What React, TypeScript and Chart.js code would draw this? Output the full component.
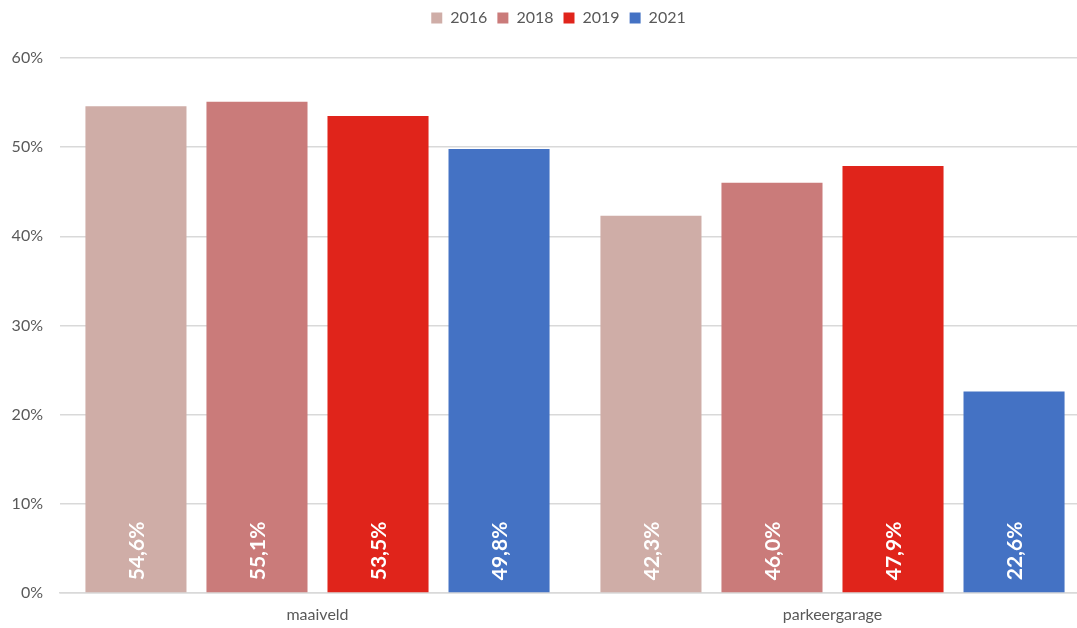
import React, { useEffect, useRef } from "react";
import { Chart, registerables } from "chart.js";

Chart.register(...registerables);

const categories = ["maaiveld", "parkeergarage"];
const seriesLabels = ["2016", "2018", "2019", "2021"];
const values2016 = [54.6, 42.3];
const values2018 = [55.1, 46.0];
const values2019 = [53.5, 47.9];
const values2021 = [49.8, 22.6];
const seriesColors = ["#CFADA7", "#CA7B7A", "#E0241B", "#4472C4"];
const yTicks = [0, 10, 20, 30, 40, 50, 60];

const FONT = "Lato, 'Open Sans', sans-serif";

const insideBaseLabels = {
  id: "insideBaseLabels",
  afterDatasetsDraw(chart: any) {
    const ctx = chart.ctx;
    ctx.save();
    chart.data.datasets.forEach((ds: any, di: number) => {
      const meta = chart.getDatasetMeta(di);
      meta.data.forEach((bar: any, i: number) => {
        const v = ds.data[i];
        const txt = v.toFixed(1).replace(".", ",") + "%";
        ctx.save();
        ctx.translate(bar.x, bar.base - 12);
        ctx.rotate(-Math.PI / 2);
        ctx.fillStyle = "#FFFFFF";
        ctx.font = "bold 21px " + FONT;
        ctx.textAlign = "left";
        ctx.textBaseline = "middle";
        ctx.fillText(txt, 0, 1);
        ctx.restore();
      });
    });
    ctx.restore();
  },
};

const legendSpacing = {
  id: "legendSpacing",
  beforeInit(chart: any) {
    const orig = chart.legend.fit;
    chart.legend.fit = function () {
      orig.bind(chart.legend)();
      this.height += 22;
    };
  },
  afterLayout(chart: any) {
    chart.legend.left = 27;
    chart.legend.right = 1090;
  },
};

export default function App() {
  const ref = useRef<HTMLCanvasElement>(null);
  useEffect(() => {
    if (!ref.current) return;
    const allValues = [values2016, values2018, values2019, values2021];
    const chart = new Chart(ref.current, {
      type: "bar",
      data: {
        labels: categories,
        datasets: seriesLabels.map((l, i) => ({
          label: l,
          data: allValues[i],
          backgroundColor: seriesColors[i],
          categoryPercentage: 0.94,
          barPercentage: 0.835,
        })),
      },
      options: {
        responsive: false,
        animation: false,
        devicePixelRatio: 1,
        layout: { padding: { top: 0, right: 10, left: 0, bottom: 0 } },
        plugins: {
          legend: {
            position: "top",
            labels: {
              boxWidth: 11,
              boxHeight: 11,
              color: "#595959",
              font: { family: FONT, size: 16 },
              padding: 10,
            },
          },
          tooltip: { enabled: false },
        },
        scales: {
          x: {
            grid: { display: false, drawTicks: false },
            border: { color: "#D9D9D9", width: 1.5 },
            ticks: { color: "#595959", font: { family: FONT, size: 16 }, padding: 12 },
            afterFit(scale: any) {
              scale.height = 35;
            },
          },
          y: {
            min: 0,
            max: 60,
            afterBuildTicks(scale: any) {
              scale.ticks = yTicks.map((v) => ({ value: v }));
            },
            grid: { color: "#D9D9D9", lineWidth: 1.5, drawTicks: false },
            border: { display: false },
            ticks: {
              color: "#595959",
              font: { family: FONT, size: 16 },
              padding: 17,
              callback: (v: any) => v + "%",
            },
            afterFit(scale: any) {
              scale.width = 60;
            },
          },
        },
      },
      plugins: [insideBaseLabels, legendSpacing],
    });
    return () => chart.destroy();
  }, []);
  return (
    <div style={{ position: "fixed", left: 0, top: 0, width: 1077, height: 628, overflow: "hidden", background: "#fff" }}>
      <canvas ref={ref} width={1100} height={628} style={{ display: "block" }} />
    </div>
  );
}
